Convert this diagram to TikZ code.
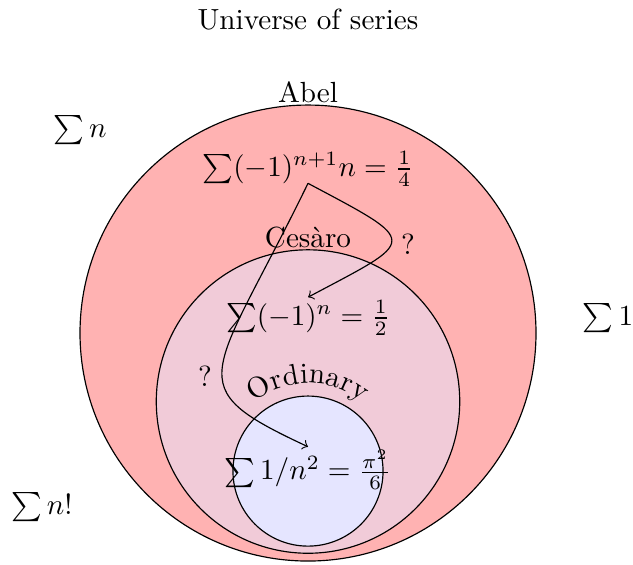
\documentclass[tikz,border=0pt]{standalone}
\usetikzlibrary{decorations.text}
\begin{document}
\begin{tikzpicture}[
  region/.style={draw=black, line width=0.4pt},
  arr/.style={->, >=to, line width=0.4pt},
  series/.style={inner sep=1pt},
]
\useasboundingbox (-3.715,-2.787) rectangle (3.920,4.017);
% regions
\draw[region, fill=red!30] (0,0) circle[radius=2.75];
\draw[region, fill=blue!10, fill opacity=0.5] (0,-0.826) circle[radius=1.83];
\draw[region, fill=blue!10] (0,-1.665) circle[radius=0.905];
\coordinate (oc) at (0,-1.665);
% labels
\node (title) at (0,3.776) {Universe of series};
\node (abel) at (0,2.907) {Abel};
\node (cesaro) at (0,1.146) {Ces\`aro};
\path[decorate, decoration={text along path, text={Ordinary}, text align=center}]
  (oc) ++(152:1.06) arc[start angle=152, end angle=28, radius=1.06];
% series
\node[series] (f1) at (0,1.978) {$\sum(-1)^{n+1}n=\frac14$};
\node[series] (f2) at (0,0.181) {$\sum(-1)^n=\frac12$};
\node[series] (f3) at (0,-1.653) {$\sum 1/n^2=\frac{\pi^2}{6}$};
\node (sn) at (-2.75,2.449) {$\sum n$};
\node (s1) at (3.619,0.181) {$\sum 1$};
\node (snf) at (-3.209,-2.099) {$\sum n!$};
% arrows
\draw[arr] ([yshift=-2.4pt]f1.base) .. controls +(-28:1.55) and +(28:1.5) .. (f2.north);
\draw[arr] ([yshift=-2.4pt]f1.base) .. controls +(-116:2.65) and +(155:1.75) .. (f3.north);
\node (q1) at (1.206,1.074) {?};
\node (q2) at (-1.242,-0.519) {?};
\end{tikzpicture}
\end{document}
